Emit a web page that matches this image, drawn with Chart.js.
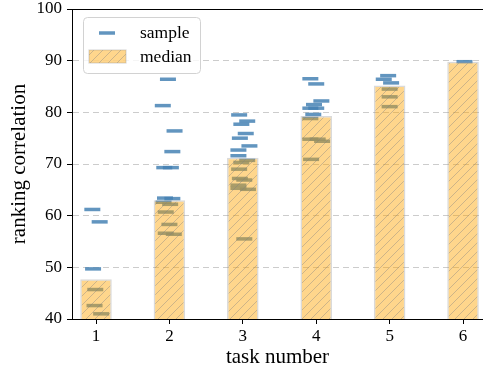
<!DOCTYPE html>
<html>
<head>
<meta charset="utf-8">
<script src="https://cdn.jsdelivr.net/npm/chart.js@4.4.1/dist/chart.umd.min.js"></script>
<style>
  html, body { margin: 0; padding: 0; background: #fff; }
</style>
</head>
<body>
<canvas id="myChart" width="483" height="375"></canvas>
<script>
// task positions and their tick labels
var tasks = [1, 2, 3, 4, 5, 6];
var task_labels = ["1", "2", "3", "4", "5", "6"];

// median ranking correlation per task (bar heights)
var medians = [47.7, 63.0, 71.2, 79.3, 85.2, 89.8];

// individual samples: jittered task position and value
var sample_x = [
  0.95, 1.05, 0.96, 0.99, 0.98, 1.07,
  1.98, 1.91, 2.07, 2.04, 1.93, 2.02, 1.94, 2.04, 1.92, 2.01, 1.95, 2.0, 1.95, 2.06,
  2.95, 3.06, 2.98, 3.04, 2.96, 3.09, 2.94, 2.94, 3.06, 2.98, 2.95, 2.96, 3.02, 2.94, 3.07, 2.94, 3.02,
  3.92, 4.0, 4.07, 3.97, 3.92, 4.0, 3.96, 3.92, 3.92, 4.02, 4.08, 3.93,
  4.98, 4.92, 5.02, 5.0, 5.0, 5.0,
  6.02
];
var sample_y = [
  61.2, 58.8, 49.7, 45.7, 42.6, 41.0,
  86.4, 81.3, 76.4, 72.4, 69.3, 69.3, 63.4, 63.3, 62.6, 62.2, 60.7, 58.3, 56.6, 56.4,
  79.5, 78.3, 77.7, 75.9, 75.0, 73.5, 72.7, 71.6, 70.7, 70.3, 69.0, 67.2, 66.9, 65.9, 65.1, 65.3, 55.5,
  86.5, 85.5, 82.2, 81.5, 80.8, 80.8, 79.6, 78.8, 74.8, 74.8, 74.4, 70.9,
  87.1, 86.4, 85.7, 84.5, 83.0, 81.1,
  89.8
];

var serif = '"Liberation Serif", "Times New Roman", serif';
var sample_color = 'rgba(70, 130, 180, 0.85)';
var bar_edge = 'rgba(150, 150, 150, 0.35)';

var canvas = document.getElementById('myChart');
var ctx = canvas.getContext('2d');

function make_hatch()
{
    let size = 9;
    let tile = document.createElement('canvas');
    tile.width = size;
    tile.height = size;
    let g = tile.getContext('2d');
    g.fillStyle = 'rgba(255, 165, 0, 0.45)';
    g.fillRect(0, 0, size, size);
    g.strokeStyle = 'rgba(130, 130, 130, 0.4)';
    g.lineWidth = 1;
    g.beginPath();
    g.moveTo(-1, size + 1); g.lineTo(size + 1, -1);
    g.moveTo(-size / 2 - 1, size / 2 + 1); g.lineTo(size / 2 + 1, -size / 2 - 1);
    g.moveTo(size / 2 - 1, size * 1.5 + 1); g.lineTo(size * 1.5 + 1, size / 2 - 1);
    g.stroke();
    return ctx.createPattern(tile, 'repeat');
}

var hatch = make_hatch();

// pin the plot box where the original axes sit
const fixed_area = {
    id: 'fixed_area',
    afterLayout(chart) {
        let left = 72, top = 9, right = 483, bottom = 319;
        let x = chart.scales.x;
        let y = chart.scales.y;
        y.left = 0; y.right = left; y.width = left;
        y.top = top; y.bottom = bottom; y.height = bottom - top;
        x.left = left; x.right = right; x.width = right - left;
        x.top = bottom; x.bottom = 375; x.height = 375 - bottom;
        y.configure();
        x.configure();
        Object.assign(chart.chartArea, {left: left, top: top, right: right, bottom: bottom,
                                        width: right - left, height: bottom - top});
    }
};

// legend box inside the plot + the top spine
const frame_and_legend = {
    id: 'frame_and_legend',
    afterDraw(chart) {
        let c = chart.ctx;
        let area = chart.chartArea;
        c.save();
        c.strokeStyle = '#000';
        c.lineWidth = 1;
        c.beginPath();
        c.moveTo(area.left, Math.round(area.top) + 0.5);
        c.lineTo(area.right, Math.round(area.top) + 0.5);
        c.stroke();

        c.beginPath();
        c.roundRect(83.5, 17.5, 117, 56, 4);
        c.fillStyle = 'rgba(255, 255, 255, 0.8)';
        c.fill();
        c.strokeStyle = '#d2d2d2';
        c.stroke();

        c.strokeStyle = sample_color;
        c.lineWidth = 3.5;
        c.beginPath();
        c.moveTo(99, 33);
        c.lineTo(115, 33);
        c.stroke();

        c.fillStyle = hatch;
        c.fillRect(89, 50, 37, 13);
        c.strokeStyle = bar_edge;
        c.lineWidth = 1.2;
        c.strokeRect(89, 50, 37, 13);

        c.fillStyle = '#000';
        c.font = '17.5px ' + serif;
        c.textBaseline = 'middle';
        c.fillText(chart.data.datasets[0].label, 140, 33);
        c.fillText(chart.data.datasets[1].label, 140, 57);
        c.restore();
    }
};

var chart = new Chart(ctx, {
    type: 'bar',
    data: {
        datasets: [
            {
                type: 'scatter',
                label: 'sample',
                data: sample_x.map((x, i) => ({x: x, y: sample_y[i]})),
                pointStyle: 'line',
                radius: 8,
                borderWidth: 3.5,
                borderColor: sample_color,
                backgroundColor: sample_color,
                order: 1
            },
            {
                type: 'bar',
                label: 'median',
                data: tasks.map((t, i) => ({x: t, y: medians[i]})),
                backgroundColor: hatch,
                borderColor: bar_edge,
                borderWidth: 1.5,
                categoryPercentage: 1,
                barPercentage: 0.43,
                order: 0
            }
        ]
    },
    options: {
        responsive: false,
        animation: false,
        devicePixelRatio: 1,
        layout: { padding: { top: 9, right: 0, left: 0, bottom: 0 } },
        plugins: {
            legend: { display: false },
            tooltip: { enabled: false }
        },
        scales: {
            x: {
                type: 'linear',
                offset: false,
                min: 0.673,
                max: 6.272,
                afterBuildTicks: (scale) => { scale.ticks = tasks.map(v => ({value: v})); },
                afterFit: (scale) => { scale.height = 56; },
                ticks: {
                    callback: (v) => task_labels[tasks.indexOf(v)],
                    color: '#000',
                    padding: 4,
                    maxRotation: 0,
                    font: { family: serif, size: 17, lineHeight: 1 }
                },
                grid: { offset: false, drawOnChartArea: false, tickLength: 5, tickColor: '#000' },
                border: { color: '#000', width: 1 },
                title: {
                    display: true,
                    text: 'task number',
                    color: '#000',
                    padding: { top: 0, bottom: 5 },
                    font: { family: serif, size: 21 }
                }
            },
            y: {
                min: 40,
                max: 100,
                afterFit: (scale) => { scale.width = 72; },
                ticks: {
                    stepSize: 10,
                    color: '#000',
                    padding: 5,
                    font: { family: serif, size: 17, lineHeight: 1 }
                },
                grid: { color: '#cccccc', tickLength: 5, tickColor: '#000' },
                border: { color: '#000', width: 1, dash: [6, 4] },
                title: {
                    display: true,
                    text: 'ranking correlation',
                    color: '#000',
                    padding: { top: 7, bottom: 0 },
                    font: { family: serif, size: 21 }
                }
            }
        }
    },
    plugins: [fixed_area, frame_and_legend]
});
</script>
</body>
</html>
